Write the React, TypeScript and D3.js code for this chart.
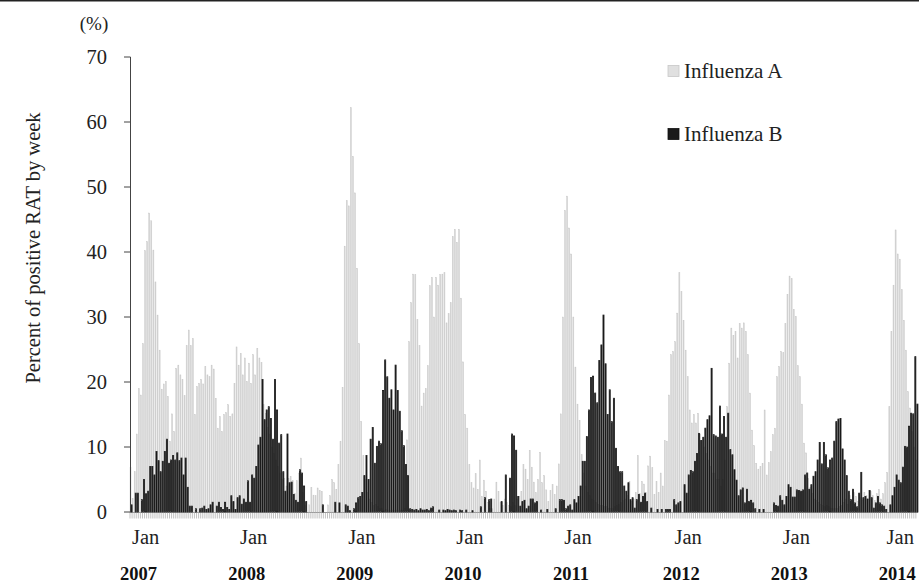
import React from 'react';
import * as d3 from 'd3';

// Weekly percent of positive RAT, starting at week 46 of 2006
const influenzaA: number[] = [
  6.8, 2.1, 6.2, 12, 19, 18, 25.9, 40.2, 41.6, 46,
  44.8, 40.3, 35.4, 30.3, 24.9, 18.9, 19.7, 20.1, 17.8, 10.9,
  15.1, 12.4, 22.1, 22.6, 21.1, 20.4, 17.9, 25.6, 28, 25.6,
  26.7, 15, 19.3, 19.8, 20.4, 19.7, 22.4, 21.1, 20.8, 22.6,
  22, 17.5, 12.9, 14.7, 12.4, 15, 15.3, 16.5, 14.7, 15.1,
  19.8, 25.4, 22.6, 24.4, 21.1, 23.7, 20.1, 22.9, 19.8, 24.2,
  21.1, 25.2, 23.7, 23, 16.5, 15.2, 13, 12, 10, 9,
  8, 7, 6, 5, 5.2, 4, 5.2, 5.5, 4.8, 2.9,
  4.8, 6, 8.3, 3, 1, 0, 1.1, 3.8, 2.6, 2.5,
  3.7, 3.3, 3.2, 0, 0, 1.1, 2.5, 5, 4.5, 3.5,
  7.3, 10.9, 19.2, 40.9, 47.9, 47.1, 62.2, 54.7, 49.1, 37.5,
  25.9, 13.9, 8.7, 5, 3, 2, 1.5, 1, 1.2, 0.8,
  0.6, 0.5, 0.3, 0.4, 0.3, 0.2, 0.3, 0.2, 0.3, 0.2,
  0.3, 0.3, 0.5, 11.1, 26.2, 32.2, 36.6, 36.5, 29.6, 25.6,
  16.3, 18.3, 19, 22.5, 34.8, 36.1, 30, 36.1, 34.9, 36.5,
  36.6, 36.8, 29.1, 30.5, 32.2, 42.4, 43.5, 41.5, 43.5, 32.9,
  23.1, 15, 12.9, 7.3, 4.5, 3.7, 5.9, 3.5, 8, 2.4,
  4.9, 3.2, 1.5, 0.5, 0.5, 2, 4.6, 3.2, 1.5, 1,
  2, 1.5, 1, 0.8, 1.5, 1, 2, 2.4, 3.2, 7.3,
  6.6, 5, 9.5, 6.9, 4.6, 3, 5, 9.2, 4.5, 5.6,
  3.4, 1.6, 3.3, 4.2, 2.7, 4, 7.4, 15.1, 30, 46.4,
  48.6, 43.7, 39.7, 30, 22.3, 16.6, 14.1, 8.8, 6, 4,
  3, 2.5, 2, 1.8, 1.5, 1.2, 1, 1, 0.8, 0.8,
  0.6, 0.5, 0.5, 0.8, 1, 1.2, 1.5, 1.8, 2, 2.5,
  4.7, 1.6, 2, 3, 8.7, 2.8, 4.7, 4.3, 3, 7.1,
  8.6, 6.8, 2.7, 4.7, 3, 6, 4, 11, 10.9, 18,
  24.2, 24.7, 26.2, 30.6, 36.8, 33.9, 29.5, 24.9, 20.8, 15.7,
  13.7, 15, 13.7, 15.2, 12, 11, 10, 9, 8, 7,
  6, 6, 5, 5, 4, 5, 8, 16.2, 22.9, 28.3,
  27.2, 27.8, 23.7, 29, 28.3, 29.1, 27.8, 24.2, 18.3, 12.6,
  10.2, 7.5, 6.6, 7, 7.5, 15.7, 5.7, 7.6, 9.3, 11.9,
  12.9, 20.8, 22.4, 24.7, 24.5, 29, 33.5, 36.3, 35.9, 31.2,
  30.1, 22.5, 20.8, 16.6, 10.6, 9.1, 5.2, 3.8, 2.9, 2,
  1.8, 1.5, 1.2, 1, 0.8, 1, 0.8, 0.6, 0.5, 0.5,
  0.5, 0.8, 1, 1.5, 2, 1.2, 2.5, 1.8, 3, 2.4,
  1.6, 2.2, 1.8, 3, 2.5, 2, 3.2, 2.5, 1.8, 2.8,
  3.5, 2, 2.8, 4.5, 6.1, 16.2, 27.8, 34.9, 43.4, 39.7,
  38.9, 34.2, 29.5, 24.9, 18.5, 16, 12.4, 10, 8,
];

const influenzaB: number[] = [
  1.1, 0, 2.9, 2.9, 0, 1.9, 5, 2.8, 3.2, 7,
  7, 5.7, 9.3, 7.9, 6.2, 7.8, 9.3, 11.2, 7.5, 8,
  8.7, 8, 9.1, 7.9, 8.3, 5.7, 8.3, 3.8, 0.9, 0.9,
  0, 0.5, 0, 0.5, 0.6, 0.9, 0.4, 0.5, 1.1, 1.5,
  0, 0.9, 1.5, 0.7, 0.4, 1.5, 0.7, 0.4, 2.5, 1.6,
  0.4, 2.2, 2.5, 1.2, 2, 1.5, 4.8, 1.5, 5.7, 5.2,
  7, 10.3, 11.5, 20.4, 14.2, 15.7, 16.2, 14.4, 11.2, 20.4,
  15.7, 10.6, 11.9, 6.2, 3.2, 12, 4.5, 4.6, 2.7, 1.8,
  1.5, 6.5, 6, 4, 1.6, 0, 0, 0, 0, 0,
  0, 0, 1.1, 0, 0, 0, 0, 0, 1.5, 0,
  1.4, 0, 0, 1.1, 0.9, 0.2, 0, 0.5, 1.4, 2.2,
  2.4, 3, 5.6, 8.7, 5, 11.2, 13, 7.5, 10.1, 10.9,
  10.5, 18.7, 23.4, 20.8, 17.5, 18.8, 15.7, 22.6, 18.7, 15.5,
  12.5, 10.2, 7.3, 5.6, 0.5, 0.4, 0.3, 0.4, 0.2, 0.5,
  0.3, 0.3, 0.4, 0.2, 0.6, 0.8, 0, 0, 0.3, 0,
  0.3, 0.2, 0.4, 0.3, 0.2, 0.3, 0.2, 0, 0.3, 0.2,
  0, 0.3, 0, 0, 0.2, 0, 0, 0, 0.8, 0,
  2.2, 0, 1.9, 2, 0, 0, 0, 0, 1.6, 0,
  5.7, 0, 5.2, 12, 11.7, 9.5, 2.4, 0.9, 1.6, 1.8,
  0.5, 0.9, 2, 2, 1.4, 1.6, 0, 0.3, 0, 0,
  0.4, 0, 0, 0, 0.5, 0, 1.9, 1.9, 1.8, 0.5,
  0.9, 1.1, 0.3, 1.9, 1.4, 2.4, 4, 7.8, 7.8, 11.6,
  15.7, 20.7, 20.9, 18.3, 16.8, 23.3, 25.7, 30.3, 22.8, 15,
  18.8, 13.9, 17.5, 9.8, 7, 6.2, 6.2, 4, 3.2, 4.5,
  1.9, 2.2, 0.6, 1.9, 2.7, 1.5, 2.4, 2.9, 1.6, 0,
  0.6, 0, 0, 0.4, 0, 0.4, 0, 0.4, 0.4, 0.4,
  0, 1.9, 1.1, 1.4, 1.6, 0, 4.2, 2.9, 5.7, 6.4,
  6.2, 7.8, 9, 12.1, 11, 11.5, 12.9, 14.2, 14.8, 22.1,
  11.9, 11.7, 11.5, 16.3, 12, 14.7, 11.5, 15.2, 9.6, 8.8,
  6.5, 4.9, 2.5, 3.4, 3.7, 1.4, 3.5, 1.6, 1.8, 1.4,
  0.5, 0, 0.4, 0, 0.4, 0, 0, 0, 0, 1.4,
  1, 0.9, 2.5, 1.8, 1.1, 2.4, 4.2, 3.8, 2.3, 2.3,
  3.4, 3.3, 3.2, 3.4, 5.7, 6, 3.5, 4.2, 5.5, 6.2,
  8, 10.7, 7.4, 10.7, 8.8, 6.8, 8, 8.3, 10.9, 13.9,
  14.3, 14.4, 9.7, 8, 5.6, 3.2, 1.9, 3.5, 1.4, 0.8,
  2.9, 6.1, 2.2, 2.4, 2, 3.3, 2.2, 0.6, 1.4, 2.4,
  1.4, 1.1, 0.9, 0.4, 0, 1.1, 2.5, 3.8, 5.7, 4.9,
  4.5, 6.9, 10.1, 10, 13.2, 15.2, 15.1, 23.9, 16.6,
];

// Week index (from the first week shown) where each January label sits
const janWeekIndex = [7, 59, 111, 163, 215, 268, 320, 370];
const yearLabels = ['2007', '2008', '2009', '2010', '2011', '2012', '2013', '2014'];
const monthLabel = 'Jan';
const yTicks = [0, 10, 20, 30, 40, 50, 60, 70];
const seriesNames = ['Influenza A', 'Influenza B'];
const seriesColors = ['#d3d3d3', '#1a1a1a'];

const FONT = "'Liberation Serif', 'DejaVu Serif', serif";

export default function App() {
  const W = 919;
  const H = 584;
  const left = 130;
  const weekW = 2.079;
  const n = influenzaA.length;
  const weeks = d3.range(n);

  const x = d3
    .scaleBand<number>()
    .domain(weeks)
    .range([left, left + n * weekW])
    .paddingInner(0)
    .paddingOuter(0);
  const sub = d3
    .scaleBand<string>()
    .domain(['A', 'B'])
    .range([0, x.bandwidth()])
    .padding(0);
  const y = d3.scaleLinear().domain([0, 70]).range([512, 57]);

  const barsA: JSX.Element[] = [];
  const barsB: JSX.Element[] = [];
  weeks.forEach((i) => {
    const a = influenzaA[i] ?? 0;
    const b = influenzaB[i] ?? 0;
    const x0 = x(i)!;
    if (a > 0) {
      barsA.push(
        <rect
          key={'a' + i}
          x={x0 + sub('A')!}
          y={y(a)}
          width={sub.bandwidth()}
          height={y(0) - y(a)}
          fill={seriesColors[0]}
          stroke="#c9c9c9"
          strokeWidth={0.4}
        />
      );
    }
    if (b > 0) {
      barsB.push(
        <rect
          key={'b' + i}
          x={x0 + sub('B')!}
          y={y(b)}
          width={sub.bandwidth()}
          height={y(0) - y(b)}
          fill={seriesColors[1]}
          stroke={seriesColors[1]}
          strokeWidth={0.8}
        />
      );
    }
  });

  const xEnd = Math.min(W, left + n * weekW);

  return (
    <svg
      width={W}
      height={H}
      viewBox={`0 0 ${W} ${H}`}
      style={{ position: 'absolute', left: 0, top: 0, background: '#fff' }}
      fontFamily={FONT}
    >
      <rect x={0} y={0} width={W} height={H} fill="#fff" />
      <rect x={0} y={0} width={W} height={1.5} fill="#222" />

      {/* weekly tick marks */}
      <g stroke="#a8a8a8" strokeWidth={0.7}>
        {weeks.map((i) => (
          <line key={'t' + i} x1={x(i)!} x2={x(i)!} y1={512} y2={518.5} />
        ))}
      </g>
      <line x1={left} x2={xEnd} y1={512.5} y2={512.5} stroke="#9a9a9a" strokeWidth={1} />

      <g>{barsA}</g>
      <g>{barsB}</g>

      {/* y axis */}
      <line x1={130.5} x2={130.5} y1={y(70)} y2={y(0)} stroke="#444" strokeWidth={1} />
      {yTicks.map((t) => (
        <g key={'y' + t}>
          <line x1={124} x2={130.5} y1={y(t)} y2={y(t)} stroke="#444" strokeWidth={1} />
          <text x={107} y={y(t)} dy="0.35em" textAnchor="end" fontSize={20.5} fill="#222">
            {t}
          </text>
        </g>
      ))}
      <text x={94} y={23} dy="0.35em" textAnchor="middle" fontSize={19} fill="#222">
        (%)
      </text>
      <text
        transform={`translate(33,248) rotate(-90)`}
        textAnchor="middle"
        dy="0.35em"
        fontSize={20.5}
        fill="#222"
      >
        Percent of positive RAT by week
      </text>

      {/* x labels */}
      {janWeekIndex.map((wi, k) => {
        const cx = x(wi)! + x.bandwidth() / 2;
        const yx = k === janWeekIndex.length - 1 ? cx - 3 : cx - 7;
        return (
          <g key={'j' + k}>
            <text x={cx} y={544} textAnchor="middle" fontSize={20.5} fill="#222">
              {monthLabel}
            </text>
            <text x={yx} y={580} textAnchor="middle" fontSize={18.5} fontWeight="bold" fill="#111">
              {yearLabels[k]}
            </text>
          </g>
        );
      })}

      {/* legend */}
      {seriesNames.map((name, k) => {
        const ly = k === 0 ? 71 : 134;
        return (
          <g key={'l' + k}>
            <rect
              x={668}
              y={ly - 5.5}
              width={11}
              height={11}
              fill={k === 0 ? '#e0e0e0' : seriesColors[1]}
              stroke={k === 0 ? '#c8c8c8' : '#111'}
              strokeWidth={0.8}
            />
            <text x={684} y={ly + 6.5} fontSize={21} fill="#222">
              {name}
            </text>
          </g>
        );
      })}
    </svg>
  );
}
